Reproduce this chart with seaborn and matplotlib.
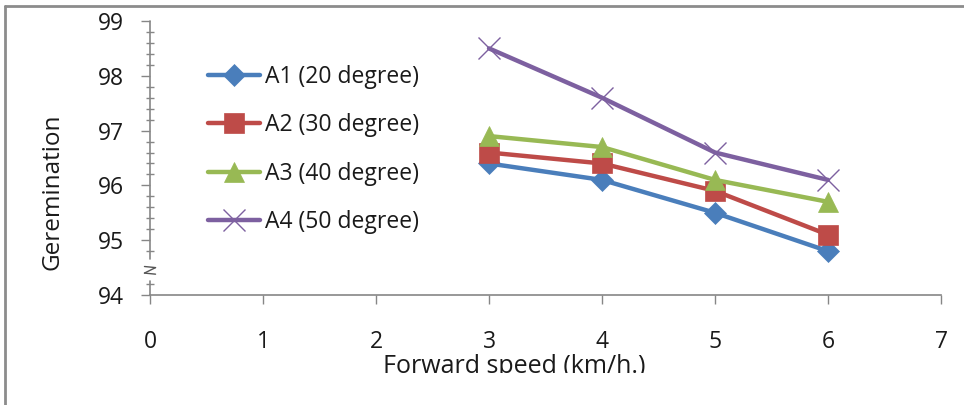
import numpy as np
import pandas as pd
import matplotlib
matplotlib.use("Agg")
import matplotlib.pyplot as plt
from matplotlib.ticker import FixedLocator
from matplotlib.patches import Rectangle
from matplotlib.lines import Line2D
import matplotlib.transforms as mtransforms
import seaborn as sns

speed = [3, 4, 5, 6]
a1 = [96.4, 96.1, 95.5, 94.8]
a2 = [96.6, 96.4, 95.9, 95.1]
a3 = [96.9, 96.7, 96.1, 95.7]
a4 = [98.5, 97.6, 96.6, 96.1]
series_names = ["A1 (20 degree)", "A2 (30 degree)", "A3 (40 degree)", "A4 (50 degree)"]
colors = ["#4A7EBB", "#BE4B48", "#98B954", "#7D60A0"]
markers = ["D", "s", "^", "x"]
marker_sizes = [11, 14, 14, 16]
x_ticks = [0, 1, 2, 3, 4, 5, 6, 7]
y_ticks = [94, 95, 96, 97, 98, 99]

df = pd.DataFrame({
    "speed": speed * 4,
    "value": a1 + a2 + a3 + a4,
    "series": np.repeat(series_names, len(speed)),
})

sns.set_style("white")
plt.rcParams["font.family"] = ["Open Sans", "DejaVu Sans"]

fig = plt.figure(figsize=(9.64, 4.05), dpi=100)
ax = fig.add_axes([150 / 964, 1 - 295 / 405, (941 - 150) / 964, (295 - 21) / 405])

for name, col, mk, ms in zip(series_names, colors, markers, marker_sizes):
    sub = df[df["series"] == name]
    sns.lineplot(data=sub, x="speed", y="value", ax=ax, color=col, lw=3.2,
                 marker=mk, markersize=ms, markeredgecolor=col,
                 markeredgewidth=1.0 if mk == "x" else 0.5,
                 label=name, clip_on=False, zorder=3)

ax.set_xlim(0, 7)
ax.set_ylim(94, 99)
ax.set_xticks(x_ticks)
ax.set_yticks(y_ticks)
ax.yaxis.set_minor_locator(FixedLocator([94.2, 94.8, 95.2, 95.4, 95.6, 95.8,
                                         96.2, 96.4, 96.6, 96.8, 97.2, 97.4,
                                         97.6, 97.8, 98.2, 98.4, 98.6, 98.8]))
axis_gray = "#868686"
txt = "#1a1a1a"
ax.tick_params(axis="both", which="major", direction="out", length=6.5, width=1,
               color=axis_gray, labelsize=16.5, labelcolor=txt,
               left=True, bottom=True)
ax.tick_params(axis="x", pad=19)
ax.tick_params(axis="y", pad=12)
ax.tick_params(axis="y", which="minor", direction="inout", length=6, width=1,
               color=axis_gray, left=True)

for s in ["top", "right", "left"]:
    ax.spines[s].set_visible(False)
ax.spines["bottom"].set_color(axis_gray)
ax.spines["bottom"].set_linewidth(1.2)

# broken value axis
trans = mtransforms.blended_transform_factory(ax.transAxes, ax.transData)
ax.plot([0, 0], [94.65, 99], transform=trans, color=axis_gray, lw=1.2, clip_on=False)
ax.plot([0, 0], [94, 94.25], transform=trans, color=axis_gray, lw=1.2, clip_on=False)
bx = 0.0
ax.plot([bx - 0.007, bx + 0.007], [94.52, 94.50], transform=trans, color="#555555", lw=1.0, clip_on=False)
ax.plot([bx + 0.007, bx - 0.007], [94.50, 94.40], transform=trans, color="#555555", lw=1.0, clip_on=False)
ax.plot([bx - 0.007, bx + 0.007], [94.40, 94.38], transform=trans, color="#555555", lw=1.0, clip_on=False)

ax.set_ylabel("Geremination", fontsize=17.5, color=txt)
ax.yaxis.set_label_coords(-0.108, 0.376)
ax.set_xlabel("Forward speed (km/h.)", fontsize=18, color=txt)
ax.xaxis.set_label_coords(0.461, -0.215)

leg = ax.legend(loc="upper left", bbox_to_anchor=(0.073, 0.84), frameon=False,
                fontsize=16.5, handlelength=2.3, handletextpad=0.2, labelspacing=1.07,
                borderpad=0, borderaxespad=0)
for t in leg.get_texts():
    t.set_color(txt)

# clip the lower edge of the plot area
fig.patches.append(Rectangle((0, 0), 1, (405 - 373) / 405, transform=fig.transFigure,
                             facecolor="white", edgecolor="none", zorder=5))
# outer chart border
fig.lines.append(Line2D([5 / 964, 5 / 964], [0, 1 - 6 / 405], transform=fig.transFigure,
                        color="#8c8c8c", lw=2, zorder=6))
fig.lines.append(Line2D([5 / 964, 1], [1 - 6 / 405, 1 - 6 / 405], transform=fig.transFigure,
                        color="#8c8c8c", lw=2, zorder=6))

fig.savefig("out.png", dpi=100, facecolor="white")
